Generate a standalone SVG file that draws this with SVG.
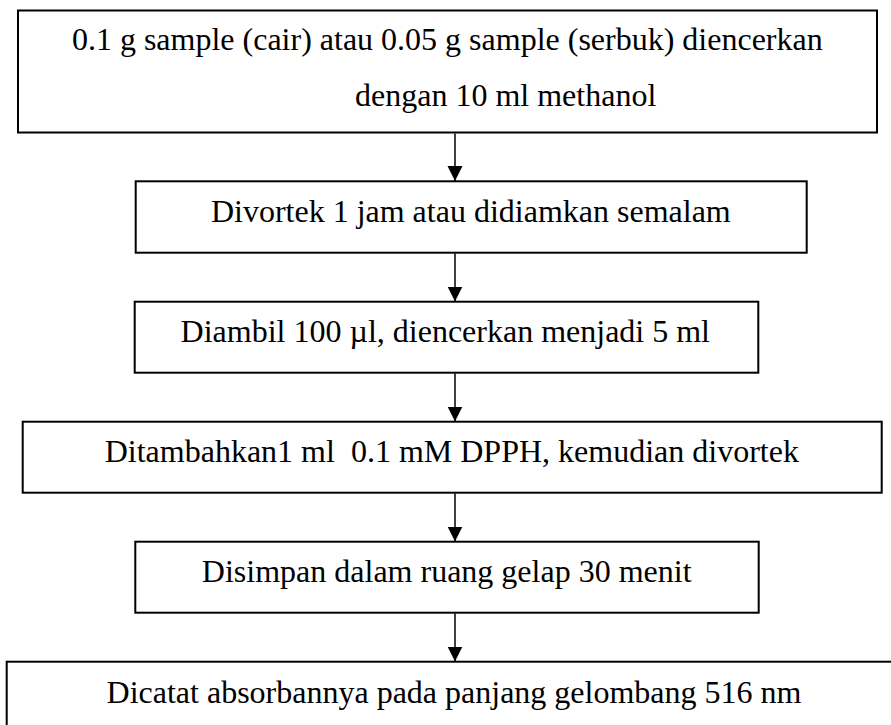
<svg xmlns="http://www.w3.org/2000/svg" width="891" height="725" viewBox="0 0 891 725">
  <style>
    .box { fill: #ffffff; stroke: #000000; stroke-width: 2; }
    .lbl { font-family: "Liberation Serif", "Times New Roman", serif; font-size: 32px; fill: #000000; text-anchor: middle; }
    .edge { stroke: #000000; stroke-width: 1.5; fill: none; }
  </style>
  <defs>
    <marker id="arrow" markerUnits="userSpaceOnUse" markerWidth="16" markerHeight="16" viewBox="0 0 16 16" refX="15" refY="8" orient="auto">
      <path d="M0,0.5 L15,8 L0,15.5 Z" fill="#000000"/>
    </marker>
  </defs>
  <rect x="0" y="0" width="891" height="725" fill="#ffffff"/>

  <g id="connectors">
    <line class="edge" x1="455" y1="133.5" x2="455" y2="181" marker-end="url(#arrow)"/>
    <line class="edge" x1="455" y1="253.5" x2="455" y2="301.5" marker-end="url(#arrow)"/>
    <line class="edge" x1="455" y1="373.5" x2="455" y2="421.5" marker-end="url(#arrow)"/>
    <line class="edge" x1="455" y1="493.5" x2="455" y2="541.5" marker-end="url(#arrow)"/>
    <line class="edge" x1="455" y1="613.5" x2="455" y2="661.5" marker-end="url(#arrow)"/>
  </g>

  <g id="node1">
    <rect class="box" x="18" y="10.5" width="859" height="122"/>
    <text class="lbl" x="447.3" y="50">0.1 g sample (cair) atau 0.05 g sample (serbuk) diencerkan</text>
    <text class="lbl" x="355" y="106" style="text-anchor:start">dengan 10 ml methanol</text>
  </g>

  <g id="node2">
    <rect class="box" x="135.7" y="181.3" width="671" height="71.4"/>
    <text class="lbl" x="470.8" y="221.7">Divortek 1 jam atau didiamkan semalam</text>
  </g>

  <g id="node3">
    <rect class="box" x="134.7" y="301.7" width="623.6" height="71"/>
    <text class="lbl" x="445.3" y="341.7">Diambil 100 µl, diencerkan menjadi 5 ml</text>
  </g>

  <g id="node4">
    <rect class="box" x="22.7" y="421.7" width="859" height="71"/>
    <text class="lbl" x="451.8" y="461.5" xml:space="preserve">Ditambahkan1 ml  0.1 mM DPPH, kemudian divortek</text>
  </g>

  <g id="node5">
    <rect class="box" x="135.3" y="541.7" width="623.4" height="71"/>
    <text class="lbl" x="446.7" y="581.7">Disimpan dalam ruang gelap 30 menit</text>
  </g>

  <g id="node6">
    <rect class="box" x="6.7" y="661.7" width="900" height="80"/>
    <text class="lbl" x="454" y="703.3">Dicatat absorbannya pada panjang gelombang 516 nm</text>
  </g>
</svg>
